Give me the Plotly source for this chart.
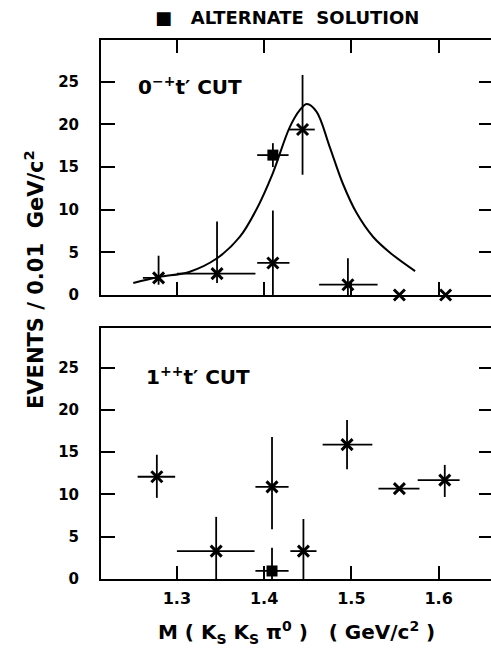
import plotly.graph_objects as go

# ---- data: 0-+ t' cut (top panel) ----
top_x = [1.279, 1.346, 1.410, 1.444, 1.496, 1.555, 1.608]
top_y = [2.0, 2.5, 3.75, 19.4, 1.2, 0.0, 0.0]
top_xerr_lo = [0.018, 0.046, 0.018, 0.016, 0.033, 0.0, 0.0]
top_xerr_hi = [0.0, 0.044, 0.019, 0.014, 0.034, 0.0, 0.0]
top_yerr_hi = [2.6, 6.1, 6.15, 6.4, 3.1, 0.0, 0.0]
top_yerr_lo = [0.8, 1.1, 3.75, 5.3, 1.2, 0.0, 0.0]

top_alt_x = [1.410]
top_alt_y = [16.4]
top_alt_xerr = [0.018]
top_alt_yerr_hi = [1.4]
top_alt_yerr_lo = [1.4]

fit_x = [1.250, 1.279, 1.314, 1.346, 1.372, 1.391, 1.410, 1.429, 1.441, 1.449,
         1.460, 1.475, 1.490, 1.506, 1.525, 1.545, 1.573]
fit_y = [1.4, 2.1, 2.7, 4.3, 6.8, 10.0, 14.3, 19.6, 21.7, 22.4,
         21.5, 17.4, 13.1, 9.6, 6.8, 4.9, 2.8]

# ---- data: 1++ t' cut (bottom panel) ----
bot_x = [1.277, 1.345, 1.409, 1.445, 1.495, 1.555, 1.607]
bot_y = [12.1, 3.3, 10.9, 3.3, 15.9, 10.7, 11.7]
bot_xerr_lo = [0.022, 0.045, 0.019, 0.015, 0.028, 0.024, 0.031]
bot_xerr_hi = [0.021, 0.044, 0.019, 0.015, 0.029, 0.023, 0.017]
bot_yerr_hi = [2.6, 4.05, 5.9, 3.8, 2.9, 0.0, 1.8]
bot_yerr_lo = [2.5, 3.3, 5.0, 3.3, 2.9, 0.0, 2.0]

bot_alt_x = [1.409]
bot_alt_y = [0.95]
bot_alt_xerr = [0.019]
bot_alt_yerr_hi = [2.75]
bot_alt_yerr_lo = [0.95]

x_ticks = [1.3, 1.4, 1.5, 1.6]
x_ticklabels = ["1.3", "1.4", "1.5", "1.6"]
y_ticks = [0, 5, 10, 15, 20, 25]
y_ticklabels = ["0", "5", "10", "15", "20", "25"]

FONT = "DejaVu Sans"
BLK = "black"
NB = "\u00a0"

fig = go.Figure()

def pts(x, y, xl, xh, yl, yh, xa, ya, symbol, size, lw):
    return go.Scatter(
        x=x, y=y, mode="markers", xaxis=xa, yaxis=ya, cliponaxis=False,
        marker=dict(symbol=symbol, size=size, color=BLK,
                    line=dict(color=BLK, width=lw)),
        error_x=dict(type="data", array=xh, arrayminus=xl, symmetric=False,
                     width=0, thickness=1.8, color=BLK),
        error_y=dict(type="data", array=yh, arrayminus=yl, symmetric=False,
                     width=0, thickness=1.8, color=BLK),
        showlegend=False, hoverinfo="skip")

# top panel
fig.add_trace(go.Scatter(x=fit_x, y=fit_y, mode="lines", xaxis="x", yaxis="y",
                         line=dict(color=BLK, width=2, shape="spline", smoothing=1.0),
                         showlegend=False, hoverinfo="skip"))
fig.add_trace(pts(top_x, top_y, top_xerr_lo, top_xerr_hi, top_yerr_lo, top_yerr_hi,
                  "x", "y", "x-thin-open", 11, 3))
fig.add_trace(pts(top_alt_x, top_alt_y, top_alt_xerr, top_alt_xerr,
                  top_alt_yerr_lo, top_alt_yerr_hi, "x", "y", "square", 11, 0))
# bottom panel
fig.add_trace(pts(bot_x, bot_y, bot_xerr_lo, bot_xerr_hi, bot_yerr_lo, bot_yerr_hi,
                  "x2", "y2", "x-thin-open", 11, 3))
fig.add_trace(pts(bot_alt_x, bot_alt_y, bot_alt_xerr, bot_alt_xerr,
                  bot_alt_yerr_lo, bot_alt_yerr_hi, "x2", "y2", "square", 11, 0))
# invisible traces for right-hand tick axes
fig.add_trace(go.Scatter(x=[1.5], y=[5], xaxis="x", yaxis="y3", mode="markers",
                         marker=dict(opacity=0), showlegend=False, hoverinfo="skip"))
fig.add_trace(go.Scatter(x=[1.5], y=[5], xaxis="x2", yaxis="y4", mode="markers",
                         marker=dict(opacity=0), showlegend=False, hoverinfo="skip"))

XR = [1.213, 1.660]
YR_TOP = [0, 29.9]
YR_BOT = [0, 29.7]
TOP_DOM = [0.527, 1.0]
BOT_DOM = [0.0, 0.4657]

xcommon = dict(range=XR, tickmode="array", tickvals=x_ticks, ticks="inside",
               ticklen=13, tickwidth=2, tickcolor=BLK, showline=True,
               linecolor=BLK, linewidth=2, showgrid=False, zeroline=False)
ycommon = dict(tickmode="array", tickvals=y_ticks, ticks="inside", ticklen=14,
               tickwidth=2, tickcolor=BLK, showline=True, linecolor=BLK,
               linewidth=2, showgrid=False, zeroline=False)

tickfont_y = dict(size=15, family=FONT, weight="bold")

fig.update_layout(
    width=491, height=650,
    margin=dict(l=101, r=0, t=40, b=71),
    paper_bgcolor="white", plot_bgcolor="white",
    font=dict(family=FONT, color=BLK),
    xaxis=dict(**xcommon, anchor="y", domain=[0, 1], mirror="ticks",
               showticklabels=False),
    yaxis=dict(**ycommon, range=YR_TOP, domain=TOP_DOM, anchor="x",
               ticktext=y_ticklabels, ticklabelstandoff=17, tickfont=tickfont_y),
    xaxis2=dict(**xcommon, anchor="y2", domain=[0, 1], mirror=True,
                ticktext=x_ticklabels,
                tickfont=dict(size=16, family=FONT, weight="bold"),
                ticklabelstandoff=4),
    yaxis2=dict(**ycommon, range=YR_BOT, domain=BOT_DOM, anchor="x2",
                ticktext=y_ticklabels, ticklabelstandoff=17, tickfont=tickfont_y),
    yaxis3=dict(tickmode="array", tickvals=y_ticks, range=YR_TOP, overlaying="y",
                side="right", anchor="x", ticks="inside", ticklen=12, tickwidth=2,
                tickcolor=BLK, showline=False, showgrid=False, zeroline=False,
                showticklabels=False),
    yaxis4=dict(tickmode="array", tickvals=y_ticks, range=YR_BOT, overlaying="y2",
                side="right", anchor="x2", ticks="inside", ticklen=12, tickwidth=2,
                tickcolor=BLK, showline=False, showgrid=False, zeroline=False,
                showticklabels=False),
)

def px_x(p):
    return (p - 101) / 390.0

def px_y(p):
    return (579 - p) / 539.0

fig.add_annotation(text="■" + NB * 3 + "ALTERNATE" + NB * 2 + "SOLUTION",
                   x=px_x(153), y=px_y(17),
                   xref="paper", yref="paper", xanchor="left", yanchor="middle",
                   showarrow=False,
                   font=dict(size=18, family=FONT, color=BLK, weight="bold"))
fig.add_annotation(text="0<sup>−+</sup>t′" + NB + "CUT", x=px_x(136), y=px_y(86),
                   xref="paper", yref="paper", xanchor="left", yanchor="middle",
                   showarrow=False,
                   font=dict(size=20, family=FONT, color=BLK, weight="bold"))
fig.add_annotation(text="1<sup>++</sup>t′" + NB + "CUT", x=px_x(144), y=px_y(376),
                   xref="paper", yref="paper", xanchor="left", yanchor="middle",
                   showarrow=False,
                   font=dict(size=20, family=FONT, color=BLK, weight="bold"))
fig.add_annotation(text="EVENTS" + NB + "/" + NB + "0.01" + NB * 2 + "GeV/c<sup>2</sup>",
                   x=px_x(34), y=px_y(280),
                   xref="paper", yref="paper", xanchor="center", yanchor="middle",
                   textangle=-90, showarrow=False,
                   font=dict(size=21, family=FONT, color=BLK, weight="bold"))
fig.add_annotation(text="M" + NB + "(" + NB + "K<sub>S</sub>" + NB + "K<sub>S</sub>" + NB
                   + "π<sup>0</sup>" + NB + ")" + NB * 3 + "(" + NB + "GeV/c<sup>2</sup>" + NB + ")",
                   x=px_x(296), y=px_y(632), xref="paper", yref="paper",
                   xanchor="center", yanchor="middle", showarrow=False,
                   font=dict(size=20, family=FONT, color=BLK, weight="bold"))

fig.write_html("out.html", config={"displayModeBar": False},
               post_script="document.body.style.margin='0';")
